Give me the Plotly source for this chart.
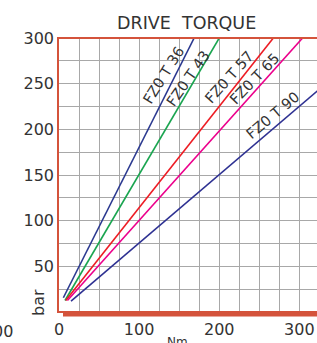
import plotly.graph_objects as go

# Data
series_names = ["FZ0 T 36", "FZ0 T 43", "FZ0 T 57", "FZ0 T 65", "FZ0 T 90"]
start_nm = [5.4, 7.5, 8.4, 10.5, 15]
start_bar = [15.6, 12.6, 12.6, 12.6, 12]
end_nm = [168.7, 200, 267.5, 304, 400]
end_bar = [300, 300, 300, 300, 300]
colors = ["#2b3990", "#1aa550", "#ed1c24", "#ec008c", "#2e3192"]
label_nm = [131, 160.5, 212.5, 244, 267.5]
label_bar = [259, 255.6, 257.5, 254.6, 215.4]
label_angle = [-58, -55, -48, -46, -40]

x_tick_vals = [0, 100, 200, 300]
y_tick_vals = [50, 100, 150, 200, 250, 300]

FONT = "DejaVu Sans"
TXT = "#333333"
RED = "#d4533b"

fig = go.Figure()
for i in range(len(series_names)):
    fig.add_trace(go.Scatter(
        x=[start_nm[i], end_nm[i]], y=[start_bar[i], end_bar[i]],
        mode="lines", line=dict(color=colors[i], width=1.6),
        name=series_names[i], showlegend=False, hoverinfo="skip"))

grid_x = list(range(0, 326, 25))
grid_y = list(range(0, 301, 25))

annotations = []
for i in range(len(series_names)):
    annotations.append(dict(
        x=label_nm[i], y=label_bar[i], xref="x", yref="y",
        xanchor="center", yanchor="middle",
        text=series_names[i], textangle=label_angle[i], showarrow=False,
        font=dict(family=FONT, size=14.5, color=TXT)))

fig.update_layout(
    width=317, height=343,
    margin=dict(l=59, r=0, t=38, b=31, pad=0, autoexpand=False),
    paper_bgcolor="white", plot_bgcolor="white",
    showlegend=False,
    xaxis=dict(range=[0, 322], tickvals=grid_x,
               ticktext=[str(v) if v in x_tick_vals else "" for v in grid_x],
               showgrid=True, gridcolor="#a8a8a8", gridwidth=1,
               zeroline=False, showline=False, ticks="", automargin=False,
               ticklabelstandoff=6,
               tickfont=dict(family=FONT, size=16, color=TXT), fixedrange=True),
    yaxis=dict(range=[0, 300], tickvals=grid_y,
               ticktext=[str(v) if v in y_tick_vals else "" for v in grid_y],
               showgrid=True, gridcolor="#a8a8a8", gridwidth=1,
               zeroline=False, showline=False, ticks="", automargin=False,
               ticklabelstandoff=4,
               tickfont=dict(family=FONT, size=16, color=TXT), fixedrange=True),
)

ph = 343 - 38 - 31
pw = 317 - 59

def py(px):
    return (343 - 31 - px) / ph

def pxx(px):
    return (px - 59) / pw

shapes = [
    dict(type="line", xref="paper", yref="paper", x0=pxx(58), x1=pxx(58), y0=py(313), y1=py(37), line=dict(color=RED, width=2)),
    dict(type="line", xref="paper", yref="paper", x0=pxx(57), x1=1.02, y0=py(38), y1=py(38), line=dict(color=RED, width=2)),
    dict(type="line", xref="paper", yref="paper", x0=pxx(57), x1=1.02, y0=py(312), y1=py(312), line=dict(color=RED, width=2)),
    dict(type="rect", xref="paper", yref="paper", x0=pxx(63), x1=1.02, y0=py(316.5), y1=py(311.5), line=dict(width=0), fillcolor=RED),
]
fig.update_layout(shapes=shapes)

annotations += [
    dict(x=pxx(186), y=py(23), xref="paper", yref="paper", text="DRIVE  TORQUE", showarrow=False,
         xanchor="center", yanchor="middle",
         font=dict(family=FONT, size=17.5, color=TXT)),
    dict(x=pxx(38), y=py(303), xref="paper", yref="paper", text="bar", textangle=-90, showarrow=False,
         xanchor="center", yanchor="middle",
         font=dict(family=FONT, size=16, color=TXT)),
    dict(x=pxx(177), y=py(342), xref="paper", yref="paper", text="Nm", showarrow=False,
         xanchor="center", yanchor="middle",
         font=dict(family=FONT, size=12, color=TXT)),
    dict(x=pxx(15), y=py(331), xref="paper", yref="paper", text="00", showarrow=False,
         xanchor="right", yanchor="middle",
         font=dict(family=FONT, size=16, color=TXT)),
]
fig.update_layout(annotations=annotations)

fig.write_html("out.html", config={"displayModeBar": False},
               post_script="document.body.style.margin='0';document.body.style.overflow='hidden';")
